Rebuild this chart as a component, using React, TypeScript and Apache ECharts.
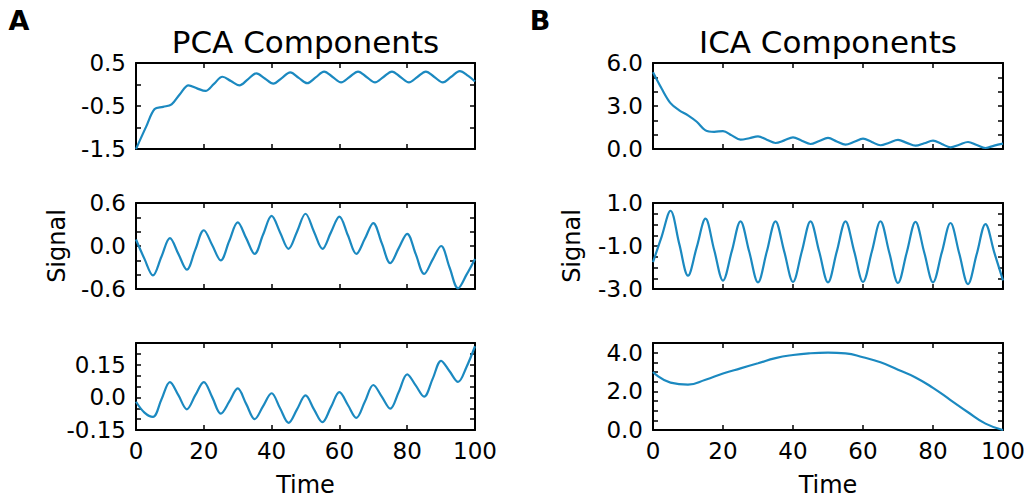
import React, { useEffect, useRef } from 'react';
import * as echarts from 'echarts';

// ---- data ----
const timeQ = [0, 2.5, 5, 7.5, 10, 12.5, 15, 17.5, 20, 22.5, 25, 27.5, 30, 32.5, 35, 37.5, 40, 42.5, 45, 47.5, 50, 52.5, 55, 57.5, 60, 62.5, 65, 67.5, 70, 72.5, 75, 77.5, 80, 82.5, 85, 87.5, 90, 92.5, 95, 97.5, 100];
const pca1Time = [0, 3, 5.5, 8, 10.5, 13, 15.5, 18, 20.5, 23, 25.5, 28, 30.5, 33, 35.5, 38, 40.5, 43, 45.5, 48, 50.5, 53, 55.5, 58, 60.5, 63, 65.5, 68, 70.5, 73, 75.5, 78, 80.5, 83, 85.5, 88, 90.5, 93, 95.5, 98, 100];
const timeC = [0, 5, 10, 15, 20, 25, 30, 35, 40, 45, 50, 55, 60, 65, 70, 75, 80, 85, 90, 95, 100];

const pca1 = [-1.5, -0.98, -0.57, -0.52, -0.46, -0.22, -0.02, -0.09, -0.15, 0.015, 0.18, 0.08, -0.02, 0.12, 0.26, 0.14, 0.02, 0.15, 0.28, 0.155, 0.03, 0.165, 0.3, 0.175, 0.05, 0.175, 0.3, 0.175, 0.05, 0.175, 0.3, 0.175, 0.05, 0.175, 0.3, 0.175, 0.05, 0.18, 0.31, 0.2, 0.07];
const pca2 = [0.09, -0.18, -0.41, -0.15, 0.11, -0.11, -0.33, -0.05, 0.22, 0.01, -0.2, 0.07, 0.33, 0.11, -0.11, 0.16, 0.42, 0.19, -0.04, 0.2, 0.45, 0.2, -0.04, 0.19, 0.41, 0.15, -0.11, 0.1, 0.32, 0.04, -0.24, -0.03, 0.17, -0.11, -0.39, -0.19, 0.0, -0.3, -0.59, -0.4, -0.18];
const pca3 = [-0.02, -0.07, -0.09, -0.01, 0.07, 0.01, -0.055, 0.01, 0.07, 0.0, -0.075, -0.02, 0.041, -0.03, -0.1, -0.04, 0.019, -0.05, -0.117, -0.055, 0.009, -0.055, -0.114, -0.045, 0.024, -0.035, -0.094, -0.02, 0.057, 0.003, -0.052, 0.025, 0.106, 0.055, 0.003, 0.085, 0.168, 0.12, 0.071, 0.14, 0.235];
const ica1 = [5.35, 4.2, 3.2, 2.7, 2.35, 1.9, 1.3, 1.2, 1.25, 0.95, 0.65, 0.75, 0.88, 0.65, 0.42, 0.6, 0.81, 0.58, 0.35, 0.56, 0.77, 0.53, 0.3, 0.5, 0.72, 0.49, 0.26, 0.44, 0.63, 0.43, 0.23, 0.4, 0.58, 0.35, 0.12, 0.3, 0.49, 0.28, 0.07, 0.24, 0.38];
const ica2 = [-1.75, -0.55, 0.64, -0.9, -2.38, -1.05, 0.27, -1.2, -2.61, -1.25, 0.15, -1.27, -2.69, -1.27, 0.15, -1.26, -2.67, -1.27, 0.15, -1.27, -2.69, -1.26, 0.15, -1.26, -2.67, -1.28, 0.15, -1.3, -2.72, -1.3, 0.12, -1.3, -2.69, -1.31, 0.07, -1.35, -2.77, -1.37, 0.02, -1.3, -2.6];
const ica3 = [3.0, 2.45, 2.35, 2.6, 2.92, 3.19, 3.45, 3.72, 3.88, 3.97, 4.0, 3.96, 3.76, 3.5, 3.12, 2.72, 2.18, 1.55, 0.92, 0.33, 0.0];

const xTickLabels = ['0', '20', '40', '60', '80', '100'];
const pca1Labels = ['0.5', '-0.5', '-1.5'];
const pca2Labels = ['0.6', '0.0', '-0.6'];
const pca3Labels = ['0.15', '0.0', '-0.15'];
const ica1Labels = ['6.0', '3.0', '0.0'];
const ica2Labels = ['1.0', '-1.0', '-3.0'];
const ica3Labels = ['4.0', '2.0', '0.0'];

const titles = ['PCA Components', 'ICA Components'];
const panelLetters = ['A', 'B'];

// ---- layout ----
const FONT = 'DejaVu Sans';
const LINE = '#1b89c0';
const colLeft = [136, 653];
const colWidth = [339, 350];
const rowTop = [63, 203, 343];
const rowHeight = [86, 86, 87];

const panels = [
  { col: 0, row: 0, x: pca1Time, y: pca1, min: -1.5, max: 0.5, interval: 0.5, labels: pca1Labels, smooth: 0.35 },
  { col: 0, row: 1, x: timeQ, y: pca2, min: -0.6, max: 0.6, interval: 0.2, labels: pca2Labels, smooth: 0.35 },
  { col: 0, row: 2, x: timeQ, y: pca3, min: -0.15, max: 0.25, interval: 0.05, labels: pca3Labels, smooth: 0.35 },
  { col: 1, row: 0, x: timeQ, y: ica1, min: 0, max: 6, interval: 1, labels: ica1Labels, smooth: 0.35 },
  { col: 1, row: 1, x: timeQ, y: ica2, min: -3, max: 1, interval: 0.5, labels: ica2Labels, smooth: 0.35 },
  { col: 1, row: 2, x: timeC, y: ica3, min: 0, max: 4.5, interval: 0.5, labels: ica3Labels, smooth: 0.5 },
];

function buildOption() {
  const grid: any[] = [];
  const xAxis: any[] = [];
  const yAxis: any[] = [];
  const series: any[] = [];
  const axisLine = { show: true, onZero: false, lineStyle: { color: '#000', width: 2 } };
  const axisTick = { show: true, inside: true, length: 5, lineStyle: { color: '#000', width: 1.5 } };
  const labelStyle = { fontFamily: FONT, fontSize: 23, color: '#000' };

  panels.forEach((p, i) => {
    grid.push({ left: colLeft[p.col], top: rowTop[p.row], width: colWidth[p.col], height: rowHeight[p.row], containLabel: false });
    const showX = p.row === 2;
    ['bottom', 'top'].forEach((pos, k) => {
      xAxis.push({
        type: 'value', gridIndex: i, position: pos, min: 0, max: 100, interval: 20,
        axisLine, axisTick, splitLine: { show: false },
        axisLabel: {
          show: showX && k === 0, margin: 9, ...labelStyle, showMinLabel: true, showMaxLabel: true,
          formatter: (v: number) => {
            const s = xTickLabels.find((l) => Math.abs(parseFloat(l) - v) < 1e-6);
            return s ?? '';
          },
        },
      });
    });
    ['left', 'right'].forEach((pos, k) => {
      yAxis.push({
        type: 'value', gridIndex: i, position: pos, min: p.min, max: p.max, interval: p.interval,
        axisLine, axisTick, splitLine: { show: false },
        axisLabel: {
          show: k === 0, margin: 10, ...labelStyle, showMinLabel: true, showMaxLabel: true,
          formatter: (v: number) => {
            const s = p.labels.find((l) => Math.abs(parseFloat(l) - v) < 1e-6);
            return s ?? '';
          },
        },
      });
    });
    series.push({
      type: 'line', xAxisIndex: 2 * i, yAxisIndex: 2 * i,
      data: p.x.map((t, k) => [t, p.y[k]]),
      showSymbol: false, smooth: p.smooth, clip: true,
      lineStyle: { color: LINE, width: 2.2 },
    });
  });

  const graphic: any[] = [];
  [0, 1].forEach((c) => {
    const cx = colLeft[c] + colWidth[c] / 2;
    graphic.push({ type: 'text', x: cx, y: 42, style: { text: titles[c], font: `31px "${FONT}"`, fill: '#000', textAlign: 'center', textVerticalAlign: 'middle' } });
    graphic.push({ type: 'text', x: cx, y: 485, style: { text: 'Time', font: `24px "${FONT}"`, fill: '#000', textAlign: 'center', textVerticalAlign: 'middle' } });
    graphic.push({ type: 'text', x: c === 0 ? 57 : 572, y: 246, rotation: Math.PI / 2, style: { text: 'Signal', font: `24px "${FONT}"`, fill: '#000', textAlign: 'center', textVerticalAlign: 'middle' } });
    graphic.push({ type: 'text', x: c === 0 ? 19 : 540, y: 20, style: { text: panelLetters[c], font: `bold 27px "${FONT}"`, fill: '#000', textAlign: 'center', textVerticalAlign: 'middle' } });
  });

  return { animation: false, backgroundColor: '#fff', grid, xAxis, yAxis, series, graphic };
}

export default function App() {
  const ref = useRef<HTMLDivElement>(null);
  useEffect(() => {
    if (!ref.current) return;
    const chart = echarts.init(ref.current, undefined, { renderer: 'svg' });
    chart.setOption(buildOption() as any);
    return () => chart.dispose();
  }, []);
  return <div ref={ref} style={{ position: 'absolute', left: 0, top: 0, width: 1029, height: 499 }} />;
}
